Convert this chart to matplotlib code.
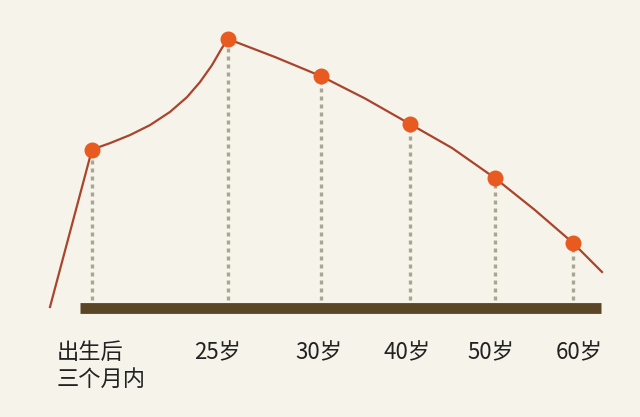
import matplotlib
matplotlib.use("Agg")
import matplotlib.pyplot as plt

plt.rcParams["font.family"] = ["Noto Sans CJK SC", "DejaVu Sans"]

# stages along the life curve
labels = ["出生后\n三个月内", "25岁", "30岁", "40岁", "50岁", "60岁"]
stage_x = [92, 228, 321, 410, 495, 573]
levels = [58.9, 100.0, 86.2, 68.4, 48.3, 24.2]

# curve (same scale as levels)
curve_x = [50, 92, 110, 130, 150, 170, 187, 200, 212, 222, 228,
           275, 321, 365, 410, 452, 495, 535, 573, 602]
curve_y = [0.4, 58.9, 61.3, 64.3, 68.0, 72.9, 78.4, 84.0, 90.3, 96.7, 100.0,
           93.3, 86.2, 77.9, 68.4, 59.5, 48.3, 36.4, 24.2, 13.4]

BG = "#f6f3ea"
LINE = "#a8452c"
DOT = "#e85a1f"
BASE = "#5b4527"
GUIDE = "#a9a698"

fig = plt.figure(figsize=(6.4, 4.17), dpi=100, facecolor=BG)
ax = fig.add_axes([0, 0, 1, 1])
ax.set_facecolor(BG)
ax.set_xlim(0, 640)
ax.set_ylim(-40.5, 114.5)
ax.axis("off")

# dotted guides from each stage point down to the base
ax.vlines(stage_x, 0, levels, colors=GUIDE, linewidth=2.4,
          linestyles=(0, (1.2, 1.2)), zorder=1)

# base bar
ax.hlines(0, 80, 601, colors=BASE, linewidth=7.8, zorder=2,
          capstyle="butt")

ax.plot(curve_x, curve_y, color=LINE, linewidth=1.6, zorder=3,
        solid_joinstyle="round")
ax.plot(stage_x, levels, "o", color=DOT, markersize=10.5, zorder=4)

# tick labels under the base
shift = [0, -10, -2, -3, -4, 6]
for i, (x, lab) in enumerate(zip(stage_x, labels)):
    if i == 0:
        ax.text(57, -12.3, lab, ha="left", va="top", fontsize=16,
                color="#222222", linespacing=1.2)
    else:
        ax.text(x + shift[i], -12.3, lab, ha="center", va="top",
                fontsize=16, color="#222222")

fig.savefig("out.png", dpi=100, facecolor=BG)
